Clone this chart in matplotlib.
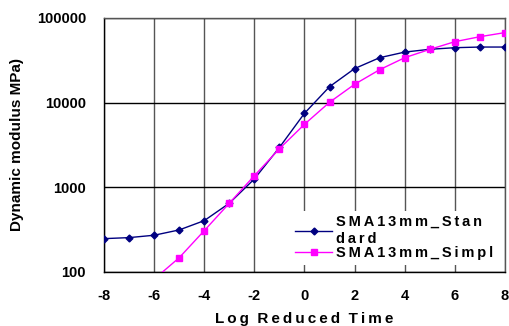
import matplotlib.pyplot as plt
from matplotlib.ticker import FixedLocator, FixedFormatter

plt.rcParams['font.family'] = ['Liberation Sans', 'DejaVu Sans']
plt.rcParams['font.weight'] = 'bold'

# data
log_time = [-8, -7, -6, -5, -4, -3, -2, -1, 0, 1, 2, 3, 4, 5, 6, 7, 8]
standard = [247, 254, 271, 313, 403, 647, 1253, 2950, 7470, 15400, 25200,
            33900, 39500, 42600, 44500, 45300, 45300]
simpl_x = [-6, -5, -4, -3, -2, -1, 0, 1, 2, 3, 4, 5, 6, 7, 8]
simpl_y = [82, 147, 307, 647, 1370, 2850, 5540, 10080, 16440, 24450,
           33900, 42500, 52400, 60000, 67100]
y_ticks = [100, 1000, 10000, 100000]
x_ticks = [-8, -6, -4, -2, 0, 2, 4, 6, 8]


def spaced(s):
    # wide letter spacing like the original
    return '\u2009'.join(s)


fig = plt.figure(figsize=(5.1, 3.26), dpi=100)
ax = fig.add_axes([0.204, 0.166, 0.786, 0.779])

ax.plot(log_time, standard, color='#000080', lw=1, marker='D', ms=3.5,
        label=spaced('SMA13mm_Stan') + '\n' + spaced('dard'), zorder=3)
ax.plot(simpl_x, simpl_y, color='#FF00FF', lw=1, marker='s', ms=5,
        label=spaced('SMA13mm_Simpl'), zorder=3)

ax.set_yscale('log')
ax.set_ylim(100, 100000)
ax.set_xlim(-8, 8)
ax.yaxis.set_major_locator(FixedLocator(y_ticks))
ax.yaxis.set_major_formatter(FixedFormatter([str(v) for v in y_ticks]))
ax.yaxis.set_minor_locator(FixedLocator([]))
ax.set_xticks(x_ticks)
ax.set_xticklabels([str(v) for v in x_ticks])

# gridlines
ax.grid(True, axis='x', color='#555555', lw=1, zorder=1)
ax.grid(True, axis='y', color='black', lw=1, zorder=1)
ax.set_axisbelow(True)

ax.tick_params(axis='both', labelsize=10.5, length=0)
ax.tick_params(axis='y', pad=13)
ax.tick_params(axis='x', pad=12)
for lab in ax.get_xticklabels() + ax.get_yticklabels():
    lab.set_fontweight('bold')
for s in ax.spines.values():
    s.set_linewidth(1)
ax.spines['top'].set_color('#555555')
ax.spines['right'].set_color('#555555')

ax.set_xlabel(spaced('Log') + '  ' + spaced('Reduced') + '  ' + spaced('Time'),
              fontsize=11, fontweight='bold', labelpad=7)
ax.set_ylabel('Dynamic modulus MPa)', fontsize=11, fontweight='bold',
              labelpad=9)

leg = ax.legend(loc='lower right', bbox_to_anchor=(1.0, 0.0), frameon=True,
                facecolor='white', edgecolor='none', framealpha=1,
                fontsize=10.5, handlelength=2.5, handletextpad=0.3,
                labelspacing=0.0, borderpad=0.3)
for t in leg.get_texts():
    t.set_fontweight('bold')
    t.set_linespacing(1.3)
leg.set_zorder(2)

fig.savefig('out.png', dpi=100)
